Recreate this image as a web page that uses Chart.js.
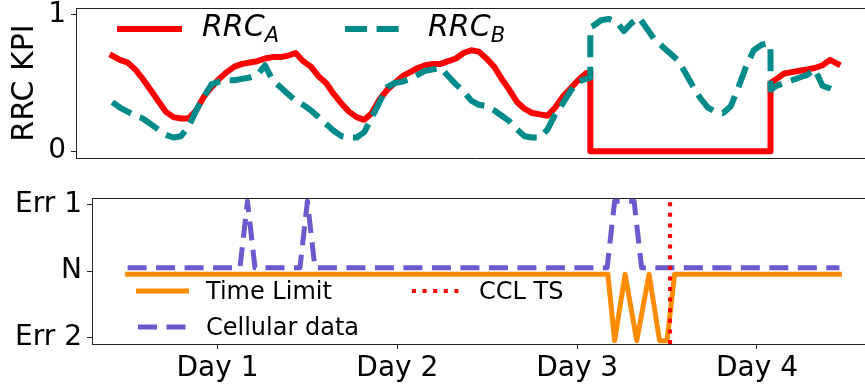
<!DOCTYPE html>
<html>
<head>
<meta charset="utf-8">
<script src="https://cdn.jsdelivr.net/npm/chart.js@4.4.1/dist/chart.umd.min.js"></script>
<style>
  html, body { margin: 0; padding: 0; background: #fff; }
  body { width: 865px; height: 385px; overflow: hidden; position: relative; font-family: 'DejaVu Sans', sans-serif; }
  canvas { position: absolute; left: 0; }
  #cTop { top: 0; }
  #cBot { top: 175px; }
  #handles { position: absolute; left: 0; top: 0; }
  .lg { position: absolute; line-height: 1; white-space: nowrap; color: #000; }
  .lg sub { font-size: 0.7em; vertical-align: -0.28em; line-height: 0; }
</style>
</head>
<body>
<canvas id="cTop" width="880" height="170"></canvas>
<canvas id="cBot" width="880" height="210"></canvas>

<!-- legend handles, drawn like matplotlib's -->
<svg id="handles" width="865" height="385">
  <line x1="120" y1="29" x2="179" y2="29" stroke="#ff0000" stroke-width="6" stroke-linecap="square"/>
  <line x1="345" y1="29" x2="407" y2="29" stroke="#008b8b" stroke-width="6" stroke-dasharray="22 9.6"/>
  <line x1="138.5" y1="291" x2="186.5" y2="291" stroke="#ff8c00" stroke-width="5" stroke-linecap="square"/>
  <line x1="138" y1="327" x2="187" y2="327" stroke="#6a5acd" stroke-width="5" stroke-dasharray="19 9.5"/>
  <line x1="412" y1="291" x2="460" y2="291" stroke="#ff0000" stroke-width="4" stroke-dasharray="4 6.6"/>
</svg>
<div class="lg" style="left:202px;top:11px;font-size:30px;font-style:italic">RRC<sub>A</sub></div>
<div class="lg" style="left:428px;top:11px;font-size:30px;font-style:italic">RRC<sub>B</sub></div>
<div class="lg" style="left:206px;top:279px;font-size:24px">Time Limit</div>
<div class="lg" style="left:206px;top:315px;font-size:24px">Cellular data</div>
<div class="lg" style="left:479px;top:279px;font-size:24px">CCL TS</div>

<script>
// top panel: hours since start, the two jumps have a repeated hour
const hours = [
  0, 1, 2, 3, 4, 5, 6, 7, 8, 9,
  10, 11, 12, 13, 14, 15, 16, 17, 18, 19,
  20, 21, 22, 23, 24, 25, 26, 27, 28, 29,
  30, 31, 32, 33, 34, 35, 36, 37, 38, 39,
  40, 41, 42, 43, 44, 45, 46, 47, 48, 49,
  50, 51, 52, 53, 54, 55, 56, 57, 58, 59,
  60, 61, 62, 62.6, 62.6, 63, 64, 65, 66, 67, 68, 69,
  70, 71, 72, 73, 74, 75, 76, 77, 78, 79,
  80, 81, 82, 83, 84, 85, 86, 86.2, 86.2, 87, 88, 89,
  90, 91, 92, 93, 94, 95
];
const rrcA = [
  0.70, 0.67, 0.65, 0.60, 0.53, 0.45, 0.37, 0.29, 0.25, 0.24,
  0.24, 0.30, 0.40, 0.47, 0.53, 0.58, 0.62, 0.64, 0.65, 0.66,
  0.68, 0.69, 0.69, 0.70, 0.72, 0.66, 0.62, 0.55, 0.50, 0.42,
  0.35, 0.29, 0.25, 0.23, 0.28, 0.38, 0.45, 0.50, 0.55, 0.58,
  0.61, 0.63, 0.64, 0.64, 0.66, 0.68, 0.72, 0.74, 0.73, 0.68,
  0.62, 0.53, 0.45, 0.36, 0.31, 0.28, 0.27, 0.26, 0.32, 0.40,
  0.46, 0.52, 0.57, 0.58, 0, 0, 0, 0, 0, 0, 0, 0,
  0, 0, 0, 0, 0, 0, 0, 0, 0, 0,
  0, 0, 0, 0, 0, 0, 0, 0, 0.50, 0.53, 0.57, 0.58,
  0.59, 0.60, 0.61, 0.63, 0.67, 0.64
];
const rrcB = [
  0.36, 0.32, 0.29, 0.26, 0.24, 0.20, 0.16, 0.12, 0.10, 0.11,
  0.18, 0.30, 0.40, 0.49, 0.51, 0.52, 0.52, 0.53, 0.54, 0.56,
  0.63, 0.52, 0.47, 0.42, 0.37, 0.34, 0.30, 0.25, 0.20, 0.15,
  0.11, 0.10, 0.10, 0.14, 0.25, 0.36, 0.47, 0.50, 0.51, 0.53,
  0.56, 0.59, 0.60, 0.61, 0.55, 0.49, 0.44, 0.37, 0.34, 0.33,
  0.30, 0.26, 0.22, 0.16, 0.11, 0.10, 0.10, 0.16, 0.27, 0.35,
  0.44, 0.51, 0.53, 0.54, 0.91, 0.92, 0.96, 0.97, 0.95, 0.88, 0.94, 0.98,
  0.90, 0.82, 0.77, 0.72, 0.67, 0.58, 0.48, 0.39, 0.32, 0.29,
  0.28, 0.33, 0.47, 0.62, 0.74, 0.78, 0.79, 0.77, 0.45, 0.48, 0.50, 0.52,
  0.54, 0.56, 0.60, 0.48, 0.46, 0.43
];
const rrcTicks = [0, 1];

// bottom panel: state per breakpoint, 1 = Err 1, 0 = N, -1 = Err 2
const stateTicks = [-1, 0, 1];
const stateLabels = ['Err 2', 'N', 'Err 1'];
const timeLimitHours = [0, 64.1, 65, 66.4, 67.95, 69.6, 71, 72, 73, 95];
const timeLimitState = [0, 0, -1, 0, -1, 0, -1, -1, 0, 0];
const cellHours = [0, 15, 16, 17, 23, 24, 25, 64, 65, 67.6, 68.6, 95];
const cellState = [0, 0, 1, 0, 0, 1, 0, 0, 1, 1, 0, 0];
const cclHour = [72.4, 72.4];
const cclSpan = [-1.1, 1.1];

const dayTicks = [12, 36, 60, 84];
const dayLabels = ['Day 1', 'Day 2', 'Day 3', 'Day 4'];

const axisColor = '#222';
const xRange = { min: -4.75, max: 99.75 };
Chart.defaults.font.family = "'DejaVu Sans', sans-serif";
Chart.defaults.color = '#000';

const pts = (xs, ys, shift = 0) => xs.map((x, i) => ({ x, y: ys[i] + shift }));

function line(label, data, color, width, dash, order) {
  return {
    label, data, order,
    borderColor: color, borderWidth: width,
    borderDash: dash || [],
    borderCapStyle: dash ? 'butt' : 'square',
    borderJoinStyle: 'round',
    pointRadius: 0, tension: 0, fill: false
  };
}

// plain frame line (top / bottom spine), no ticks
function frameAxis(position, size) {
  return {
    type: 'linear', position, min: xRange.min, max: xRange.max,
    ticks: { display: false }, grid: { display: false },
    border: { display: true, color: axisColor, width: 1 },
    afterFit: s => { s.height = size; s.paddingLeft = 0; s.paddingRight = 0; }
  };
}

function valueAxis(min, max, ticks, width, extra) {
  return Object.assign({
    type: 'linear', min, max,
    afterBuildTicks: s => { s.ticks = ticks.map(v => ({ value: v })); },
    grid: { drawOnChartArea: false, tickLength: 5, tickColor: axisColor },
    border: { display: true, color: axisColor, width: 1 },
    afterFit: s => { s.width = width; s.paddingTop = 0; s.paddingBottom = 0; }
  }, extra);
}

const common = {
  responsive: false, animation: false, devicePixelRatio: 1,
  plugins: { legend: { display: false }, tooltip: { enabled: false } }
};

new Chart(document.getElementById('cTop'), {
  type: 'line',
  data: {
    datasets: [
      line('RRC_A', pts(hours, rrcA), '#ff0000', 6, null, 2),
      line('RRC_B', pts(hours, rrcB), '#008b8b', 6, [22, 9.6], 1)
    ]
  },
  options: {
    ...common,
    layout: { padding: { top: 8, right: 6, bottom: 0, left: 0 } },
    scales: {
      x: frameAxis('bottom', 12),
      xTop: frameAxis('top', 0),
      y: valueAxis(-0.05, 1.05, rrcTicks, 76, {
        ticks: { font: { size: 28 }, padding: 5 },
        title: { display: true, text: 'RRC KPI', font: { size: 30 }, padding: { top: 7, bottom: 0 } }
      })
    }
  }
});

new Chart(document.getElementById('cBot'), {
  type: 'line',
  data: {
    datasets: [
      line('Time Limit', pts(timeLimitHours, timeLimitState, -0.05), '#ff8c00', 5, null, 3),
      line('Cellular data', pts(cellHours, cellState, 0.05), '#6a5acd', 5, [19, 9.5], 2),
      line('CCL TS', pts(cclHour, cclSpan), '#ff0000', 4, [4, 6.6], 1)
    ]
  },
  options: {
    ...common,
    layout: { padding: { top: 23, right: 5, bottom: 0, left: 0 } },
    scales: {
      x: {
        type: 'linear', position: 'bottom', min: xRange.min, max: xRange.max,
        afterBuildTicks: s => { s.ticks = dayTicks.map(v => ({ value: v })); },
        ticks: { autoSkip: false, maxRotation: 0, font: { size: 28 }, padding: 3,
                 callback: v => dayLabels[dayTicks.indexOf(v)] },
        grid: { drawOnChartArea: false, tickLength: 5, tickColor: axisColor },
        border: { display: true, color: axisColor, width: 1 },
        afterFit: s => { s.height = 41; s.paddingLeft = 0; s.paddingRight = 0; }
      },
      xTop: frameAxis('top', 0),
      y: valueAxis(-1.1, 1.1, stateTicks, 92, {
        ticks: { font: { size: 28 }, padding: 5,
                 callback: v => stateLabels[stateTicks.indexOf(v)] }
      })
    }
  }
});
</script>
</body>
</html>
